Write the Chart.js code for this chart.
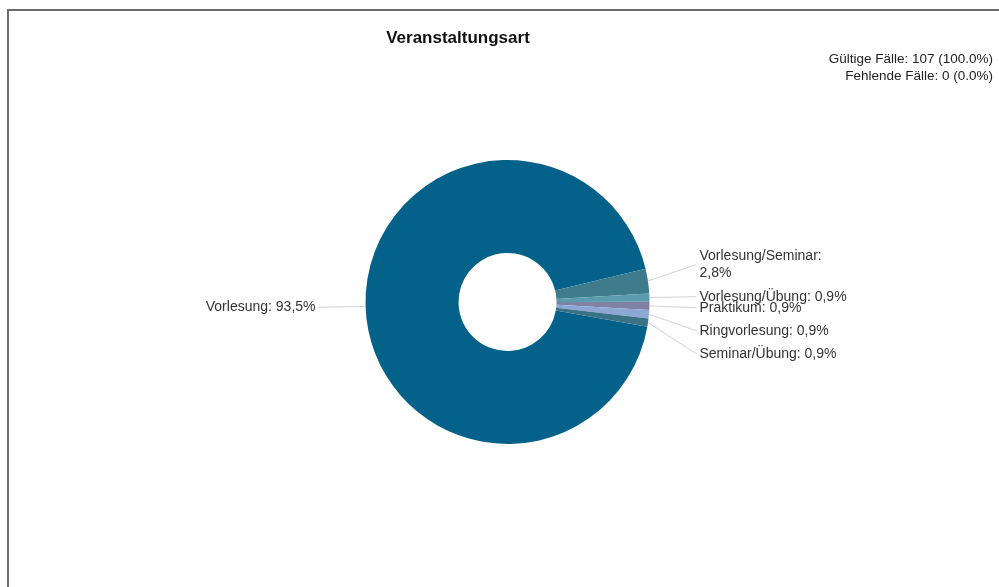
<!DOCTYPE html>
<html>
<head>
<meta charset="utf-8">
<script src="https://cdn.jsdelivr.net/npm/chart.js@4"></script>
<style>
  body { margin: 0; background: #fff; }
  #wrap { width: 999px; height: 587px; position: relative; }
</style>
</head>
<body>
<div id="wrap"><canvas id="myChart"></canvas></div>
<script>
const categories = ['Vorlesung', 'Vorlesung/Seminar', 'Vorlesung/Übung', 'Praktikum', 'Ringvorlesung', 'Seminar/Übung']
const counts = [100, 3, 1, 1, 1, 1]
const percentLabels = ['93,5%', '2,8%', '0,9%', '0,9%', '0,9%', '0,9%']
const colors = ['#04618a', '#3e7b8d', '#5a9cae', '#7f82a4', '#8ea8d6', '#3a7385']

const titleText = 'Veranstaltungsart'
const infoLines = ['Gültige Fälle: 107 (100.0%)', 'Fehlende Fälle: 0 (0.0%)']

// label layout tweaks (vertical spreading like the original report)
const labelNudge = [0, -12, 0, 1, 14, 27]
const wrapLabels = ['Vorlesung/Seminar']

const labelFont = '14px "Liberation Sans", Arial, sans-serif'

const decorations = {
  id: 'decorations',
  afterDraw (chart) {
    const ctx = chart.ctx
    ctx.save()
    // frame
    ctx.fillStyle = '#6b6b6b'
    ctx.fillRect(7, 9, 992, 2)
    ctx.fillRect(7, 9, 2, 578)

    // title
    ctx.fillStyle = '#111'
    ctx.font = 'bold 17px "Liberation Sans", Arial, sans-serif'
    ctx.textAlign = 'center'
    ctx.textBaseline = 'middle'
    ctx.fillText(titleText, 458, 38)

    // info text
    ctx.fillStyle = '#222'
    ctx.font = '13.5px "Liberation Sans", Arial, sans-serif'
    ctx.textAlign = 'right'
    infoLines.forEach((t, i) => ctx.fillText(t, 993, 59 + i * 17))

    // slice labels with leader lines
    const meta = chart.getDatasetMeta(0)
    ctx.font = labelFont
    meta.data.forEach((arc, i) => {
      const p = arc.getProps(['x', 'y', 'startAngle', 'endAngle', 'outerRadius'], true)
      const mid = (p.startAngle + p.endAngle) / 2
      const r = p.outerRadius
      const right = Math.cos(mid) >= 0
      const ex = p.x + r * Math.cos(mid)
      const ey = p.y + r * Math.sin(mid)
      const ly = p.y + (r + 30) * Math.sin(mid) + labelNudge[i]
      const tx = right ? p.x + r + 50 : p.x - r - 50
      ctx.strokeStyle = '#d2d2d2'
      ctx.lineWidth = 1
      ctx.beginPath()
      ctx.moveTo(ex, ey)
      ctx.lineTo(right ? tx - 3 : tx + 3, ly)
      ctx.stroke()

      ctx.fillStyle = '#333'
      ctx.textAlign = right ? 'left' : 'right'
      ctx.textBaseline = 'middle'
      const lines = wrapLabels.includes(categories[i])
        ? [categories[i] + ':', percentLabels[i]]
        : [categories[i] + ': ' + percentLabels[i]]
      const top = ly - (lines.length - 1) * 17 / 2
      lines.forEach((t, k) => ctx.fillText(t, tx, top + k * 17))
    })
    ctx.restore()
  }
}

new Chart(document.getElementById('myChart'), {
  type: 'doughnut',
  data: {
    labels: categories,
    datasets: [{
      data: counts,
      backgroundColor: colors,
      borderWidth: 0,
      hoverOffset: 0
    }]
  },
  options: {
    responsive: true,
    maintainAspectRatio: false,
    animation: false,
    cutout: '34.5%',
    rotation: 100,
    layout: { padding: { top: 160, bottom: 143, left: 307.5, right: 291.5 } },
    plugins: {
      legend: { display: false },
      tooltip: { enabled: false },
      title: { display: false }
    }
  },
  plugins: [decorations]
})
</script>
</body>
</html>
